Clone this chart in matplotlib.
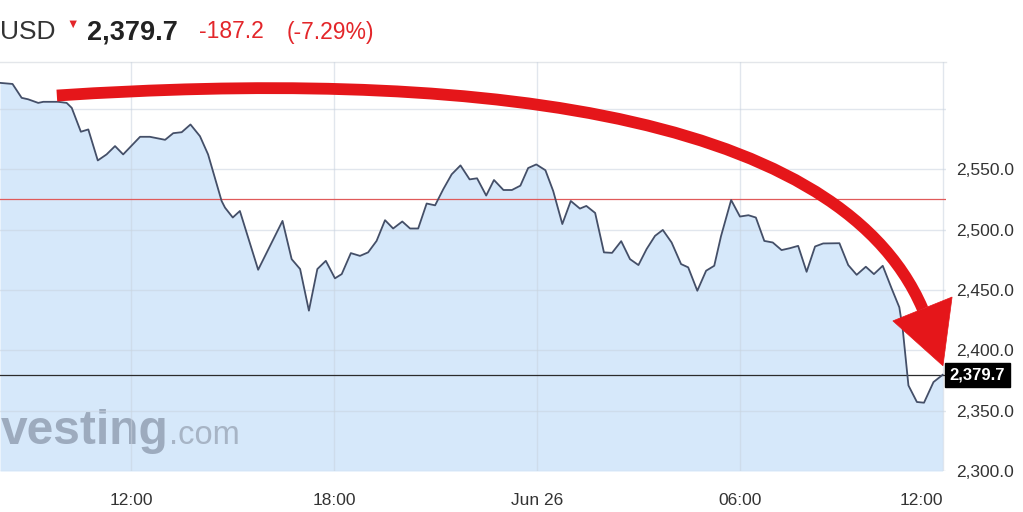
import matplotlib
matplotlib.use("Agg")
import matplotlib.pyplot as plt
from matplotlib.path import Path
from matplotlib.patches import PathPatch, Polygon
import matplotlib.transforms as mtransforms

plt.rcParams['font.family'] = ['Liberation Sans', 'DejaVu Sans']

# ---- data (hours since Jun 25 00:00, price in USD) ----
hours = [8.13, 8.50, 8.77, 8.96, 9.26, 9.41, 9.85, 10.10, 10.25, 10.52,
         10.74, 11.02, 11.28, 11.53, 11.77, 12.27, 12.56, 13.01, 13.25, 13.50,
         13.76, 14.04, 14.28, 14.68, 14.78, 15.01, 15.22, 15.76, 16.48, 16.75,
         17.00, 17.26, 17.51, 17.76, 18.03, 18.23, 18.50, 18.77, 19.01, 19.26,
         19.51, 19.75, 20.02, 20.25, 20.49, 20.74, 20.99, 21.23, 21.48, 21.74,
         22.01, 22.23, 22.50, 22.73, 23.01, 23.26, 23.51, 23.74, 23.98, 24.25,
         24.48, 24.75, 25.00, 25.27, 25.46, 25.72, 25.98, 26.22, 26.49, 26.75,
         27.00, 27.24, 27.49, 27.72, 27.98, 28.26, 28.47, 28.74, 29.00, 29.24,
         29.44, 29.74, 30.00, 30.25, 30.47, 30.72, 30.97, 31.23, 31.48, 31.72,
         31.97, 32.22, 32.46, 32.94, 33.20, 33.45, 33.72, 33.96, 34.22, 34.49,
         34.71, 34.81, 34.98, 35.23, 35.44, 35.72, 35.99]
prices = [2621.7, 2620.8, 2609.3, 2608.1, 2605.1, 2606.0, 2606.0, 2605.1, 2601.0, 2581.2,
          2583.1, 2557.4, 2562.4, 2569.3, 2562.4, 2577.0, 2577.0, 2574.5, 2580.0, 2580.8,
          2587.2, 2577.5, 2562.4, 2523.8, 2518.3, 2510.1, 2515.5, 2466.8, 2507.3, 2475.6,
          2467.4, 2432.9, 2467.4, 2474.2, 2459.7, 2463.2, 2480.6, 2478.3, 2481.2, 2490.7,
          2507.9, 2501.0, 2506.8, 2501.0, 2501.0, 2521.7, 2520.2, 2533.5, 2545.9, 2553.3,
          2541.7, 2542.6, 2528.3, 2541.2, 2532.9, 2532.9, 2536.5, 2551.1, 2554.1, 2549.3,
          2532.1, 2504.7, 2523.8, 2517.5, 2519.7, 2513.9, 2481.2, 2480.8, 2490.5, 2475.6,
          2470.7, 2483.9, 2494.9, 2499.8, 2489.4, 2471.5, 2468.8, 2449.4, 2466.0, 2470.1,
          2494.6, 2524.6, 2510.9, 2512.0, 2510.1, 2490.7, 2489.4, 2483.1, 2484.7, 2486.6,
          2465.1, 2486.1, 2488.6, 2488.8, 2470.7, 2462.6, 2469.3, 2463.2, 2470.1, 2450.8,
          2435.7, 2417.8, 2370.9, 2357.2, 2356.6, 2373.7, 2379.7]

last_price = 2379.7
change = -187.2
change_pct = -7.29
ref_level = 2525.8

x_ticks = [12, 18, 24, 30, 36]
x_labels = ["12:00", "18:00", "Jun 26", "06:00", "12:00"]
y_ticks = [2300, 2350, 2400, 2450, 2500, 2550, 2600]
y_labels = ["2,300.0", "2,350.0", "2,400.0", "2,450.0", "2,500.0", "2,550.0", ""]

# arrow annotation anchors (hours, price)
arrow_path = [(9.81, 2611.2), (21.43, 2632.6), (32.81, 2603.7), (35.40, 2434.3)]
arrow_head = [(34.52, 2424.4), (36.27, 2444.2), (36.00, 2387.2)]

# ---- figure ----
W, H = 1023, 512
fig = plt.figure(figsize=(W / 100, H / 100), dpi=100)
fig.patch.set_facecolor("white")
ax = fig.add_axes([0.0, 41 / H, 946 / W, 409 / H])

ax.set_xlim(8.13, 36.09)
ax.set_ylim(2300, 2639)

ax.fill_between(hours, prices, 2300, color="#d6e8fa", lw=0, zorder=1)
ax.plot(hours, prices, color="#444f68", lw=1.3, zorder=4, solid_joinstyle="round")

ax.axhline(ref_level, color="#e05a5a", lw=0.9, zorder=3)
ax.axhline(last_price, color="#2b2b2b", lw=0.9, zorder=3)

ax.set_xticks(x_ticks)
ax.set_xticklabels(x_labels)
ax.set_yticks(y_ticks)
ax.set_yticklabels(y_labels)
ax.yaxis.tick_right()
ax.tick_params(axis="both", length=0, labelsize=12.5, colors="#333333")
ax.tick_params(axis="y", pad=7)
ax.tick_params(axis="x", pad=16)
ax.get_xticklabels()[-1].set_ha("right")
ax.set_axisbelow(False)
ax.grid(True, color="#c9d3df", lw=1.0, alpha=0.55, zorder=2)
for s in ["left", "bottom", "right"]:
    ax.spines[s].set_visible(False)
ax.spines["top"].set_color("#e3e6ea")
ax.spines["top"].set_linewidth(1.0)

# watermark
ax.text(0.001, 0.065, "vesting", transform=ax.transAxes, fontsize=34.5, fontweight="bold",
        color="#9dabbe", ha="left", va="baseline", zorder=2.5)
ax.text(0.179, 0.065, ".com", transform=ax.transAxes, fontsize=23.5,
        color="#a7b4c5", ha="left", va="baseline", zorder=2.5)

# price tag
tr = mtransforms.blended_transform_factory(ax.transAxes, ax.transData)
ax.text(1.004, last_price, "2,379.7", transform=tr, fontsize=12, fontweight="bold",
        color="white", ha="left", va="center", zorder=6, clip_on=False,
        bbox=dict(boxstyle="square,pad=0.28", fc="black", ec="black"))

# red curved arrow
codes = [Path.MOVETO, Path.CURVE4, Path.CURVE4, Path.CURVE4]
shaft = PathPatch(Path(arrow_path, codes), fc="none", ec="#e5161a", lw=8.5,
                  capstyle="butt", zorder=7, clip_on=False)
ax.add_patch(shaft)
head = Polygon(arrow_head, closed=True, fc="#e5161a", ec="#e5161a", lw=0.5,
               zorder=7, clip_on=False)
ax.add_patch(head)

# header
fig.text(0 / W, 1 - 32 / H, "USD", fontsize=19, color="#333333", ha="left", va="center")
fig.text(73 / W, 1 - 25 / H, "\u25BC", fontsize=9, color="#e3262a", ha="center", va="center")
fig.text(87 / W, 1 - 32 / H, f"{last_price:,.1f}", fontsize=19.5, fontweight="bold",
         color="#222222", ha="left", va="center")
fig.text(199 / W, 1 - 32 / H, f"{change:,.1f}", fontsize=16.5, color="#e3262a",
         ha="left", va="center")
fig.text(287 / W, 1 - 32 / H, f"({change_pct:.2f}%)", fontsize=16.5, color="#e3262a",
         ha="left", va="center")

fig.savefig("out.png", dpi=100, facecolor="white")
